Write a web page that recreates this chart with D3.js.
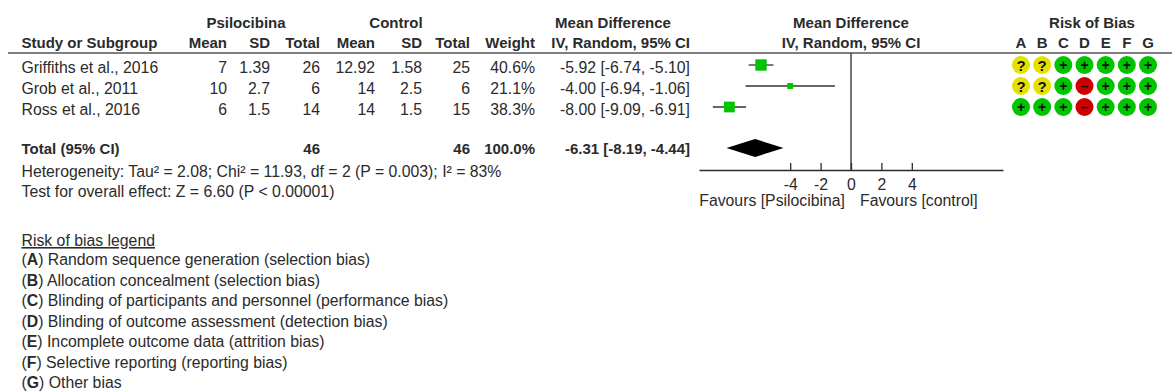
<!DOCTYPE html>
<html>
<head>
<meta charset="utf-8">
<script src="https://cdn.jsdelivr.net/npm/d3@7"></script>
<style>
  html, body { margin: 0; padding: 0; background: #fff; }
  svg text { font-family: "Liberation Sans", Arial, sans-serif; fill: #2b2b2b; }
  .reg { font-size: 15.8px; }
  .bold { font-size: 15px; font-weight: bold; }
</style>
</head>
<body>
<svg id="chart" width="1172" height="392"></svg>
<script>
// ---- Study data ----
const studies = ["Griffiths et al., 2016", "Grob et al., 2011", "Ross et al., 2016"];
const psiMean = [7, 10, 6];
const psiSD = [1.39, 2.7, 1.5];
const psiN = [26, 6, 14];
const ctlMean = [12.92, 14, 14];
const ctlSD = [1.58, 2.5, 1.5];
const ctlN = [25, 6, 15];
const weights = [40.6, 21.1, 38.3];
const md = [-5.92, -4.00, -8.00];
const ciLow = [-6.74, -6.94, -9.09];
const ciHigh = [-5.10, -1.06, -6.91];

// ---- Pooled result ----
const totalPsiN = 46;
const totalCtlN = 46;
const totalWeight = 100.0;
const pooledMD = -6.31;
const pooledLow = -8.19;
const pooledHigh = -4.44;
const heterogeneityText = "Heterogeneity: Tau\u00b2 = 2.08; Chi\u00b2 = 11.93, df = 2 (P = 0.003); I\u00b2 = 83%";
const overallEffectText = "Test for overall effect: Z = 6.60 (P < 0.00001)";

// ---- Axis ----
const axisDomain = [-10, 10];
const axisTicks = [-4, -2, 0, 2, 4];
const favoursLeft = "Favours [Psilocibina]";
const favoursRight = "Favours [control]";

// ---- Risk of bias ----
const biasDomains = ["A", "B", "C", "D", "E", "F", "G"];
const biasJudgements = [
  ["?", "?", "+", "+", "+", "+", "+"],
  ["?", "?", "+", "-", "+", "+", "+"],
  ["+", "+", "+", "-", "+", "+", "+"]
];
const biasDescriptions = [
  "Random sequence generation (selection bias)",
  "Allocation concealment (selection bias)",
  "Blinding of participants and personnel (performance bias)",
  "Blinding of outcome assessment (detection bias)",
  "Incomplete outcome data (attrition bias)",
  "Selective reporting (reporting bias)",
  "Other bias"
];

// ---- Layout ----
const svg = d3.select("#chart");
const ink = "#2b2b2b";
const rowY = d3.scaleLinear().domain([0, studies.length - 1]).range([65, 107]);
const totalY = 148;
const x = d3.scaleLinear().domain(axisDomain).range([699, 1003]);
const axisY = 170;
const headerLineY = 53;
const textDy = 8;
const biasX = d3.scalePoint().domain(biasDomains).range([1021, 1148]);
const legendY = d3.scaleLinear().domain([0, biasDescriptions.length - 1]).range([265, 388]);

// plain hyphen for negative numbers
const locale = d3.formatLocale({ decimal: ".", thousands: ",", grouping: [3], currency: ["", ""], minus: "-" });
const fmt2 = locale.format(".2f");
const fmtW = locale.format(".1f");
const fmtTick = locale.format("d");

// right edges of the numeric columns
const col = {
  study: 21.5, psiMean: 227, psiSD: 270, psiN: 320,
  ctlMean: 375, ctlSD: 422, ctlN: 470, weight: 535, ci: 690
};

function txt(g, xPos, yPos, s, cls, anchor) {
  return g.append("text").attr("x", xPos).attr("y", yPos)
    .attr("class", cls).attr("text-anchor", anchor || "start").text(s);
}

// Group headers
const head = svg.append("g");
txt(head, 246, 28, "Psilocibina", "bold", "middle");
txt(head, 396, 28, "Control", "bold", "middle");
txt(head, 613, 28, "Mean Difference", "bold", "middle");
txt(head, x(0), 28, "Mean Difference", "bold", "middle");
txt(head, 1092, 28, "Risk of Bias", "bold", "middle");

// Column headers
txt(head, col.study, 48, "Study or Subgroup", "bold");
txt(head, col.psiMean, 48, "Mean", "bold", "end");
txt(head, col.psiSD, 48, "SD", "bold", "end");
txt(head, col.psiN, 48, "Total", "bold", "end");
txt(head, col.ctlMean, 48, "Mean", "bold", "end");
txt(head, col.ctlSD, 48, "SD", "bold", "end");
txt(head, col.ctlN, 48, "Total", "bold", "end");
txt(head, col.weight, 48, "Weight", "bold", "end");
txt(head, col.ci, 48, "IV, Random, 95% CI", "bold", "end");
txt(head, x(0), 48, "IV, Random, 95% CI", "bold", "middle");
biasDomains.forEach(d => txt(head, biasX(d), 48, d, "bold", "middle"));

svg.append("line").attr("x1", 8).attr("x2", 1172)
  .attr("y1", headerLineY).attr("y2", headerLineY)
  .attr("stroke", "#555").attr("stroke-width", 1.5);

// Study rows
const rows = svg.append("g");
studies.forEach((s, i) => {
  const y = rowY(i) + textDy;
  txt(rows, col.study, y, s, "reg");
  txt(rows, col.psiMean, y, String(psiMean[i]), "reg", "end");
  txt(rows, col.psiSD, y, String(psiSD[i]), "reg", "end");
  txt(rows, col.psiN, y, String(psiN[i]), "reg", "end");
  txt(rows, col.ctlMean, y, String(ctlMean[i]), "reg", "end");
  txt(rows, col.ctlSD, y, String(ctlSD[i]), "reg", "end");
  txt(rows, col.ctlN, y, String(ctlN[i]), "reg", "end");
  txt(rows, col.weight, y, fmtW(weights[i]) + "%", "reg", "end");
  txt(rows, col.ci, y, `${fmt2(md[i])} [${fmt2(ciLow[i])}, ${fmt2(ciHigh[i])}]`, "reg", "end");
});

// Total row
const tY = totalY + 6;
txt(rows, col.study, tY, "Total (95% CI)", "bold");
txt(rows, col.psiN, tY, String(totalPsiN), "bold", "end");
txt(rows, col.ctlN, tY, String(totalCtlN), "bold", "end");
txt(rows, col.weight, tY, fmtW(totalWeight) + "%", "bold", "end");
txt(rows, col.ci, tY, `${fmt2(pooledMD)} [${fmt2(pooledLow)}, ${fmt2(pooledHigh)}]`, "bold", "end");
txt(rows, col.study, 177, heterogeneityText, "reg");
txt(rows, col.study, 197, overallEffectText, "reg");

// Forest plot
const plot = svg.append("g");
plot.append("line").attr("x1", x(0)).attr("x2", x(0))
  .attr("y1", headerLineY).attr("y2", axisY)
  .attr("stroke", ink).attr("stroke-width", 1.3);

const axis = d3.axisBottom(x).tickValues(axisTicks).tickFormat(fmtTick).tickSize(0).tickPadding(0);
const axisG = plot.append("g").attr("transform", `translate(0,${axisY})`).call(axis);
axisG.select(".domain").attr("stroke", ink).attr("stroke-width", 1.3);
axisG.selectAll(".tick line").attr("y2", -7).attr("stroke", ink).attr("stroke-width", 1.3);
axisG.selectAll(".tick text")
  .attr("dy", null).attr("y", 20)
  .style("font-family", '"Liberation Sans", Arial, sans-serif')
  .style("font-size", "15.8px").attr("fill", ink);

txt(plot, x(0) - 6, 206, favoursLeft, "reg", "end");
txt(plot, x(0) + 9, 206, favoursRight, "reg", "start");

// Confidence intervals and weighted squares
studies.forEach((s, i) => {
  plot.append("line")
    .attr("x1", x(ciLow[i])).attr("x2", x(ciHigh[i]))
    .attr("y1", rowY(i)).attr("y2", rowY(i))
    .attr("stroke", "#333").attr("stroke-width", 1.3);
  const side = weights[i] * 0.28;
  plot.append("rect")
    .attr("x", x(md[i]) - side / 2).attr("y", rowY(i) - side / 2)
    .attr("width", side).attr("height", side)
    .attr("fill", "#00c400");
});

// Pooled diamond
plot.append("path")
  .attr("d", `M${x(pooledLow)},${totalY} L${x(pooledMD)},${totalY - 9} L${x(pooledHigh)},${totalY} L${x(pooledMD)},${totalY + 9} Z`)
  .attr("fill", "#000");

// Risk of bias grid
const biasColor = { "?": "#e4e000", "+": "#00c400", "-": "#cc0000" };
const biasGlyph = { "?": "?", "+": "+", "-": "\u2013" };
const grid = svg.append("g");
biasJudgements.forEach((row, i) => {
  row.forEach((j, k) => {
    const cx = biasX(biasDomains[k]);
    grid.append("circle").attr("cx", cx).attr("cy", rowY(i)).attr("r", 9)
      .attr("fill", biasColor[j]);
    grid.append("text").attr("x", cx).attr("y", rowY(i) + (j === "?" ? 5.5 : 4.5))
      .attr("text-anchor", "middle")
      .style("font-size", j === "?" ? "15px" : "14px").style("font-weight", "bold")
      .style("fill", "#111").text(biasGlyph[j]);
  });
});

// Risk of bias legend
const legend = svg.append("g");
txt(legend, col.study, 246, "Risk of bias legend", "reg")
  .style("text-decoration", "underline");
biasDescriptions.forEach((d, i) => {
  const t = legend.append("text").attr("x", col.study).attr("y", legendY(i)).attr("class", "reg");
  t.append("tspan").text("(");
  t.append("tspan").style("font-weight", "bold").text(biasDomains[i]);
  t.append("tspan").text(") " + d);
});
</script>
</body>
</html>
